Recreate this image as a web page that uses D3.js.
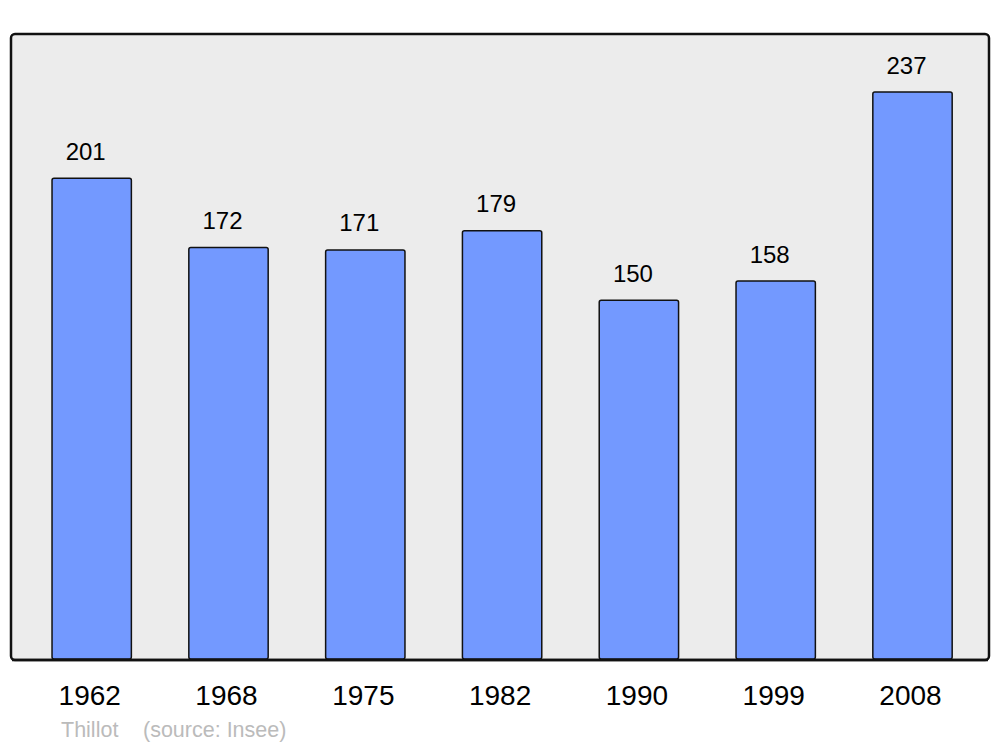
<!DOCTYPE html>
<html><head><meta charset="utf-8">
<script src="https://cdn.jsdelivr.net/npm/d3@7"></script>
<style>html,body{margin:0;padding:0;background:#fff;}svg{display:block;}</style>
</head><body>
<script>
const years = ["1962","1968","1975","1982","1990","1999","2008"];
const population = [201,172,171,179,150,158,237];
const townName = "Thillot";
const sourceText = "(source: Insee)";

const W = 1000, H = 747;
const svg = d3.select("body").append("svg").attr("width", W).attr("height", H);

svg.append("rect").attr("x", 11).attr("y", 34).attr("width", 978).attr("height", 626)
  .attr("rx", 4).attr("fill", "#ececec").attr("stroke", "#111").attr("stroke-width", 2.5);

const x = d3.scaleBand().domain(years).range([23.3, 980.9]).paddingInner(0.42).paddingOuter(0.21);
const y = d3.scaleLinear().domain([0, 261.3]).range([659, 34]);

const data = years.map((yr, i) => ({yr, v: population[i]}));

svg.selectAll("rect.bar").data(data).enter().append("rect").attr("class", "bar")
  .attr("x", d => x(d.yr)).attr("y", d => y(d.v))
  .attr("width", x.bandwidth()).attr("height", d => y(0) - y(d.v))
  .attr("rx", 2).attr("fill", "#7399ff").attr("stroke", "#111").attr("stroke-width", 1.5);

svg.selectAll("text.val").data(data).enter().append("text").attr("class", "val")
  .attr("x", d => x(d.yr) + x.bandwidth()/2 - 6).attr("y", d => y(d.v) - 18.5)
  .attr("text-anchor", "middle").attr("font-family", "Liberation Sans, Arial, sans-serif")
  .attr("font-size", 24).attr("fill", "#000").text(d => d.v);

// frame bottom edge over bars
svg.append("line").attr("x1", 12).attr("x2", 988).attr("y1", 660).attr("y2", 660)
  .attr("stroke", "#111").attr("stroke-width", 2.5);

const xAxis = d3.axisBottom(x).tickSize(0).tickPadding(0);
const gx = svg.append("g").attr("transform", "translate(-2,705)").call(xAxis);
gx.select(".domain").remove();
gx.selectAll("text").attr("font-family", "Liberation Sans, Arial, sans-serif")
  .attr("font-size", 28).attr("fill", "#000").attr("dy", 0);

svg.append("text").attr("x", 61).attr("y", 737).attr("font-family", "Liberation Sans, Arial, sans-serif")
  .attr("font-size", 21.5).attr("fill", "#bbb").text(townName);
svg.append("text").attr("x", 143).attr("y", 737).attr("font-family", "Liberation Sans, Arial, sans-serif")
  .attr("font-size", 21.5).attr("fill", "#bbb").text(sourceText);
</script>
</body></html>
